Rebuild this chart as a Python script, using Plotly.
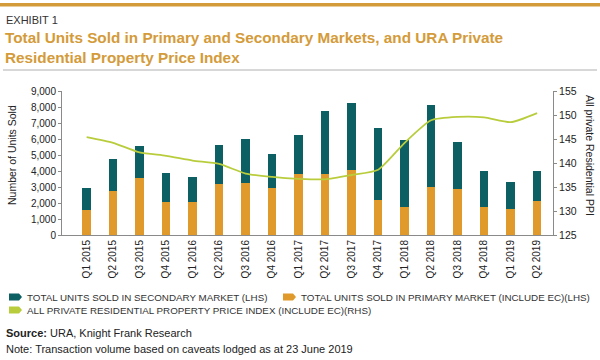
import plotly.graph_objects as go

quarters = ["Q1 2015", "Q2 2015", "Q3 2015", "Q4 2015", "Q1 2016", "Q2 2016",
            "Q3 2016", "Q4 2016", "Q1 2017", "Q2 2017", "Q3 2017", "Q4 2017",
            "Q1 2018", "Q2 2018", "Q3 2018", "Q4 2018", "Q1 2019", "Q2 2019"]
primary = [1540, 2720, 3590, 2090, 2040, 3160, 3250, 2930, 3800, 3800,
           4050, 2200, 1770, 2990, 2850, 1770, 1630, 2130]
secondary = [1390, 2010, 1960, 1790, 1610, 2490, 2780, 2130, 2470, 3970,
             4180, 4490, 4160, 5110, 2970, 2260, 1680, 1900]
ppi = [145.4, 144.2, 142.2, 141.5, 140.5, 139.8, 137.8, 137.1, 136.7, 136.6,
       137.5, 138.6, 144.2, 148.9, 149.6, 149.5, 148.5, 150.4]

left_ticks = [0, 1000, 2000, 3000, 4000, 5000, 6000, 7000, 8000, 9000]
right_ticks = [125, 130, 135, 140, 145, 150, 155]

TEAL = "#0c5f63"
ORANGE = "#df9a2b"
GREEN = "#b9cd3c"
GOLD = "#d49b3a"
FONT = "Liberation Sans"

W, H = 600, 360
L, R, T, B = 62, 47, 91, 125

fig = go.Figure()
fig.add_trace(go.Bar(x=quarters, y=primary, marker_color=ORANGE, width=0.32,
                     marker_line_width=0, name="primary", yaxis="y"))
fig.add_trace(go.Bar(x=quarters, y=secondary, marker_color=TEAL, width=0.32,
                     marker_line_width=0, name="secondary", yaxis="y"))
fig.add_trace(go.Scatter(x=quarters, y=ppi, mode="lines", line=dict(color=GREEN, width=1.8, shape="spline", smoothing=0.6),
                         yaxis="y2", name="ppi"))

def px_x(x):
    return (x - L) / (W - L - R)

def px_y(y):
    return (H - B - y) / (H - T - B)

shapes = []
annotations = []

# top gold band and separator
shapes.append(dict(type="rect", xref="paper", yref="paper", x0=px_x(0), x1=px_x(600),
                   y0=px_y(6.5), y1=px_y(3), fillcolor=GOLD, line_width=0, layer="above"))
shapes.append(dict(type="line", xref="paper", yref="paper", x0=px_x(3), x1=px_x(597),
                   y0=px_y(70), y1=px_y(70), line=dict(color="#b0b0b0", width=1)))

annotations.append(dict(text="EXHIBIT 1", xref="paper", yref="paper", x=px_x(4), y=px_y(20),
                        xanchor="left", yanchor="middle", showarrow=False,
                        font=dict(family=FONT, size=11, color="#333333")))
annotations.append(dict(text="<b>Total Units Sold in Primary and Secondary Markets, and URA Private<br>Residential Property Price Index</b>",
                        xref="paper", yref="paper", x=px_x(3), y=px_y(48), xanchor="left", yanchor="middle",
                        align="left", showarrow=False,
                        font=dict(family=FONT, size=15.3, color=GOLD)))

# axis titles
annotations.append(dict(text="Number of Units Sold", xref="paper", yref="paper", x=px_x(12), y=px_y(155),
                        xanchor="center", yanchor="middle", textangle=-90, showarrow=False,
                        font=dict(family=FONT, size=10.5, color="#222222")))
annotations.append(dict(text="All private Residential PPI", xref="paper", yref="paper", x=px_x(590), y=px_y(155),
                        xanchor="center", yanchor="middle", textangle=90, showarrow=False,
                        font=dict(family=FONT, size=10.5, color="#222222")))

# legend
def legend_item(x, y, color, label):
    shapes.append(dict(type="path", xref="paper", yref="paper",
                       path="M {a},{b} L {c},{b} L {d},{e} L {c},{f} L {a},{f} Z".format(
                           a=px_x(x), c=px_x(x + 10), d=px_x(x + 13), b=px_y(y - 3.5),
                           e=px_y(y), f=px_y(y + 3.5)),
                       fillcolor=color, line_width=0))
    annotations.append(dict(text=label, xref="paper", yref="paper", x=px_x(x + 16), y=px_y(y),
                            xanchor="left", yanchor="middle", showarrow=False,
                            font=dict(family=FONT, size=9.8, color="#333333")))

legend_item(9, 297, TEAL, "TOTAL UNITS SOLD IN SECONDARY MARKET (LHS)")
legend_item(283, 297, ORANGE, "TOTAL UNITS SOLD IN PRIMARY MARKET (INCLUDE EC)(LHS)")
legend_item(9, 310, GREEN, "ALL PRIVATE RESIDENTIAL PROPERTY PRICE INDEX (INCLUDE EC)(RHS)")

annotations.append(dict(text="<b>Source:</b> URA, Knight Frank Research", xref="paper", yref="paper",
                        x=px_x(4), y=px_y(333), xanchor="left", yanchor="middle", showarrow=False,
                        font=dict(family=FONT, size=11, color="#222222")))
annotations.append(dict(text="Note: Transaction volume based on caveats lodged as at 23 June 2019", xref="paper", yref="paper",
                        x=px_x(4), y=px_y(349), xanchor="left", yanchor="middle", showarrow=False,
                        font=dict(family=FONT, size=11, color="#222222")))

fig.update_layout(
    width=W, height=H, margin=dict(l=L, r=R, t=T, b=B),
    paper_bgcolor="white", plot_bgcolor="white",
    barmode="stack", showlegend=False,
    font=dict(family=FONT, size=10, color="#222222"),
    xaxis=dict(range=[-0.93, 17.6], showline=True, linecolor="#8a8a8a", linewidth=1,
               tickangle=-90, ticks="", showgrid=False, tickfont=dict(size=10)),
    yaxis=dict(range=[0, 9000], tickvals=left_ticks, tickformat=",", showline=True, linecolor="#8a8a8a",
               ticks="outside", ticklen=3, tickcolor="#8a8a8a", showgrid=False, zeroline=False,
               tickfont=dict(size=10)),
    yaxis2=dict(range=[125, 155], tickvals=right_ticks, overlaying="y", side="right", showline=True,
                linecolor="#8a8a8a", ticks="outside", ticklen=3, tickcolor="#8a8a8a", showgrid=False,
                zeroline=False, tickfont=dict(size=10.5)),
    shapes=shapes, annotations=annotations,
)

fig.write_html("out.html", config={"displayModeBar": False},
               post_script="document.body.style.margin='0';document.body.style.overflow='hidden';")
